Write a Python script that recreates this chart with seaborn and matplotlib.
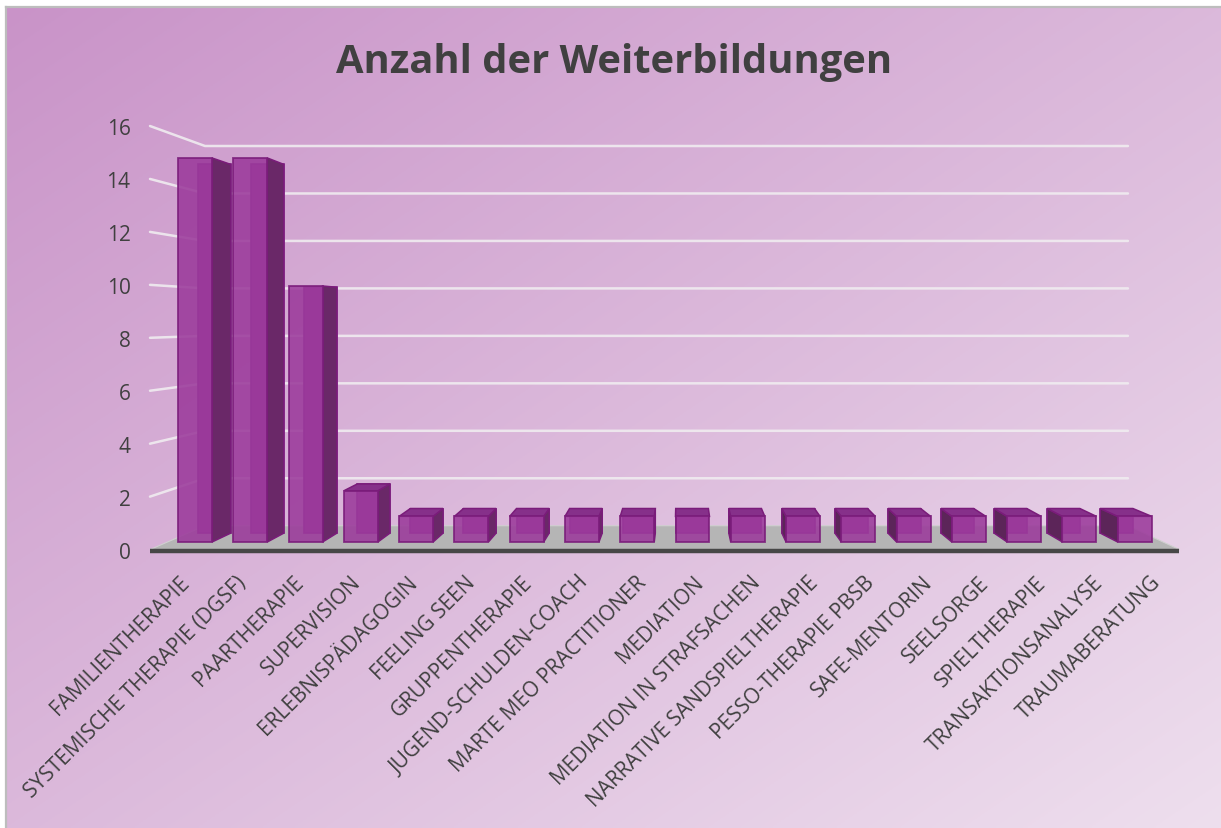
import numpy as np
import matplotlib
matplotlib.use('Agg')
import matplotlib.pyplot as plt
from matplotlib.patches import Polygon
import seaborn as sns

categories = ['FAMILIENTHERAPIE', 'SYSTEMISCHE THERAPIE (DGSF)', 'PAARTHERAPIE',
              'SUPERVISION', 'ERLEBNISPÄDAGOGIN', 'FEELING SEEN', 'GRUPPENTHERAPIE',
              'JUGEND-SCHULDEN-COACH', 'MARTE MEO PRACTITIONER', 'MEDIATION',
              'MEDIATION IN STRAFSACHEN', 'NARRATIVE SANDSPIELTHERAPIE',
              'PESSO-THERAPIE PBSB', 'SAFE-MENTORIN', 'SEELSORGE', 'SPIELTHERAPIE',
              'TRANSAKTIONSANALYSE', 'TRAUMABERATUNG']
counts = [15, 15, 10, 2, 1, 1, 1, 1, 1, 1, 1, 1, 1, 1, 1, 1, 1, 1]
y_ticks = [0, 2, 4, 6, 8, 10, 12, 14, 16]
title = 'Anzahl der Weiterbildungen'

sns.set_theme(style='white')
plt.rcParams['font.family'] = ['Open Sans', 'DejaVu Sans']

W, H = 1221, 829
fig = plt.figure(figsize=(W / 100, H / 100), dpi=100)
fig.patch.set_facecolor('white')

# gradient background with grey border top/left
bg = fig.add_axes([6 / W, 0, 1 - 6 / W, 1 - 8 / H])
xx, yy = np.meshgrid(np.linspace(0, 1, 400), np.linspace(0, 1, 300))
g = (xx + yy) / 2
c0 = np.array([201, 147, 200]) / 255
c1 = np.array([238, 223, 238]) / 255
bg.imshow(c0 + g[..., None] * (c1 - c0), aspect='auto')
bg.set_xticks([])
bg.set_yticks([])
for side in ['right', 'bottom']:
    bg.spines[side].set_visible(False)
for side in ['left', 'top']:
    bg.spines[side].set_color('#bdbdbd')
    bg.spines[side].set_linewidth(1.6)

ax = fig.add_axes([150 / W, (H - 555.8) / H, 1040 / W, 437.8 / H])
ax.patch.set_alpha(0)

sns.barplot(x=categories, y=counts, order=categories, color='#9b3a9b', saturation=1,
            width=0.615, edgecolor='#7a1c7a', linewidth=1.3, ax=ax, zorder=3)
bars = list(ax.patches)

# fake 3d: scale about a vanishing point (data coords of bar front plane)
vx, vy = 8.8, 8.7
r_front, r_back, r_bar = 1.034, 0.927, 0.96


def proj(x, y, r):
    return vx + (x - vx) * r, vy + (y - vy) * r


xl = vx + (-0.814 - vx) / r_front
xr = vx + (17.81 - vx) / r_front

# back wall gridlines and left wall connectors
for v in y_ticks[1:]:
    a = proj(xl, v, r_back)
    b = proj(xr, v, r_back)
    f = proj(xl, v, r_front)
    ax.plot([f[0], a[0], b[0]], [f[1], a[1], b[1]], color='#f0ecf0', lw=1.8,
            alpha=0.9, zorder=0.5, clip_on=False)

# floor
floor = [proj(xl, 0, r_front), proj(xr, 0, r_front), proj(xr, 0, r_back), proj(xl, 0, r_back)]
ax.add_patch(Polygon(floor, closed=True, facecolor='#b5b5b5', edgecolor='#d0d0d0',
                     lw=0.8, zorder=0.8, clip_on=False))
f0, f1 = floor[0], floor[1]
ax.plot([f0[0], f1[0]], [f0[1] - 0.06, f1[1] - 0.06], color='#474747', lw=3.2,
        solid_capstyle='butt', zorder=0.9, clip_on=False)

edge = '#7a1c7a'
for p in bars:
    x0 = p.get_x()
    x1 = x0 + p.get_width()
    h = p.get_height()
    bl, br = proj(x0, 0, r_bar), proj(x1, 0, r_bar)
    tl, tr = proj(x0, h, r_bar), proj(x1, h, r_bar)
    ax.add_patch(Polygon([bl, br, tr, tl], closed=True, facecolor='#933494',
                         edgecolor='#84268a', lw=1.2, zorder=2, clip_on=False))
    if x1 < vx:
        side = [(x1, 0), (x1, h), tr, br]
        ax.add_patch(Polygon(side, closed=True, facecolor='#6a2868', edgecolor=edge,
                             lw=1.1, zorder=2.3, clip_on=False))
    elif x0 > vx:
        side = [(x0, 0), (x0, h), tl, bl]
        ax.add_patch(Polygon(side, closed=True, facecolor='#5c2559', edgecolor=edge,
                             lw=1.1, zorder=2.3, clip_on=False))
    if h < vy:
        top = [(x0, h), (x1, h), tr, tl]
        ax.add_patch(Polygon(top, closed=True, facecolor='#86308a', edgecolor=edge,
                             lw=1.1, zorder=2.4, clip_on=False))
    p.set_alpha(0.88)
    p.set_edgecolor(edge)

ax.set_xlim(-0.814, 18.0)
ax.set_ylim(-0.5, 16.6)
sns.despine(ax=ax, left=True, bottom=True)

ax.set_yticks([proj(0, v, r_front)[1] for v in y_ticks])
ax.set_yticklabels([str(v) for v in y_ticks], fontsize=15, color='#404040')
ax.set_xticks([proj(i, 0, r_front)[0] for i in range(len(categories))])
ax.set_xticklabels(categories, rotation=45, ha='right', va='top',
                   rotation_mode='anchor', fontsize=15, color='#404040')
ax.tick_params(axis='y', length=0, pad=14)
ax.tick_params(axis='x', length=0, pad=12)
ax.set_xlabel('')
ax.set_ylabel('')

fig.text(0.503, 1 - 63 / H, title, ha='center', va='center', fontsize=28.7,
         fontweight='bold', color='#404040')

fig.savefig('out.png', dpi=100)
